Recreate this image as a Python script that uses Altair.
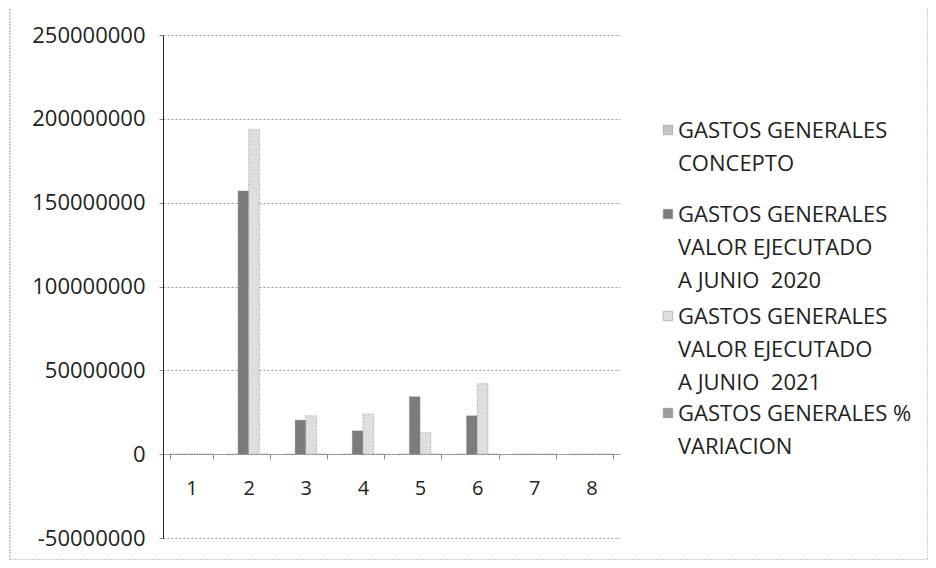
import altair as alt
import pandas as pd

categories = ["1", "2", "3", "4", "5", "6", "7", "8"]
series_names = [
    "GASTOS GENERALES|CONCEPTO",
    "GASTOS GENERALES|VALOR EJECUTADO|A JUNIO\u00a0 2020",
    "GASTOS GENERALES|VALOR EJECUTADO|A JUNIO\u00a0 2021",
    "GASTOS GENERALES %|VARIACION",
]
concepto = [0, 0, 0, 0, 0, 0, 0, 0]
valor_2020 = [0, 157000000, 20300000, 13900000, 34300000, 22900000, 0, 0]
valor_2021 = [0, 193500000, 22900000, 23900000, 12800000, 42000000, 0, 0]
variacion = [0, 23, 13, 72, -63, 83, 0, 0]

rows = []
for s, vals in zip(series_names, [concepto, valor_2020, valor_2021, variacion]):
    for c, v in zip(categories, vals):
        rows.append({"cat": c, "serie": s, "valor": v})
df = pd.DataFrame(rows)
legend_df = pd.DataFrame({"serie": series_names, "orden": list(range(len(series_names)))})

colors = ["#c4c4c4", "#7c7c7c", "#dedede", "#9c9c9c"]
FONT = "Open Sans"
color_scale = alt.Scale(domain=series_names, range=colors)

bars = alt.Chart(df).mark_bar(stroke="#8a8a8a", strokeWidth=0.8, strokeDash=[1, 1.5]).encode(
    x=alt.X(
        "cat:N",
        sort=categories,
        scale=alt.Scale(paddingInner=0.25, paddingOuter=0.125),
        axis=alt.Axis(
            title=None,
            labelAngle=0,
            labelFont=FONT,
            labelFontSize=20,
            labelColor="#222222",
            labelPadding=19,
            offset=-84,
            domainColor="#888888",
            domainDash=[2, 1],
            ticks=True,
            tickBand="extent",
            tickSize=5,
            tickColor="#888888",
            grid=False,
        ),
    ),
    xOffset=alt.XOffset("serie:N", sort=series_names, scale=alt.Scale(domain=series_names)),
    y=alt.Y(
        "valor:Q",
        scale=alt.Scale(domain=[-50000000, 250000000], nice=False, zero=False),
        axis=alt.Axis(
            title=None,
            values=[-50000000, 0, 50000000, 100000000, 150000000, 200000000, 250000000],
            labelExpr="toString(datum.value)",
            labelFont=FONT,
            labelFontSize=22,
            labelColor="#222222",
            labelPadding=14,
            domainColor="#222222",
            tickSize=4,
            tickColor="#888888",
            grid=True,
            gridColor="#9a9a9a",
            gridDash=[2, 2],
            gridWidth=1,
        ),
    ),
    color=alt.Color("serie:N", scale=color_scale, legend=None),
)

legend_symbols = alt.Chart(legend_df).mark_square(
    size=90, opacity=1, stroke="#888888", strokeWidth=0.5
).encode(
    x=alt.value(505),
    y=alt.Y("orden:Q", scale=alt.Scale(domain=[0, 1, 2, 3], range=[95, 179, 281, 378]), axis=None),
    color=alt.Color("serie:N", scale=color_scale, legend=None),
)

legend_text = alt.Chart(legend_df).mark_text(
    align="left", baseline="alphabetic", lineBreak="|", lineHeight=33,
    font=FONT, fontSize=22, color="#222222",
).encode(
    x=alt.value(515),
    y=alt.Y("orden:Q", scale=alt.Scale(domain=[0, 1, 2, 3], range=[103, 187, 289, 386]), axis=None),
    text="serie:N",
)

border = alt.Chart(alt.Data(values=[{}])).mark_rect(
    fill=None, stroke="#9a9a9a", strokeWidth=1, strokeDash=[2, 1]
).encode(
    x=alt.value(-153), x2=alt.value(765), y=alt.value(-30), y2=alt.value(525)
)

chart = alt.layer(border, bars, legend_symbols, legend_text).resolve_scale(
    y="independent"
).properties(
    width=457,
    height=503,
    padding={"left": 155, "top": 27, "right": 308, "bottom": 22},
    autosize=alt.AutoSizeParams(type="none"),
    background="white",
).configure_view(stroke=None)

chart.save("out.html", embed_options={"renderer": "svg", "actions": False})
